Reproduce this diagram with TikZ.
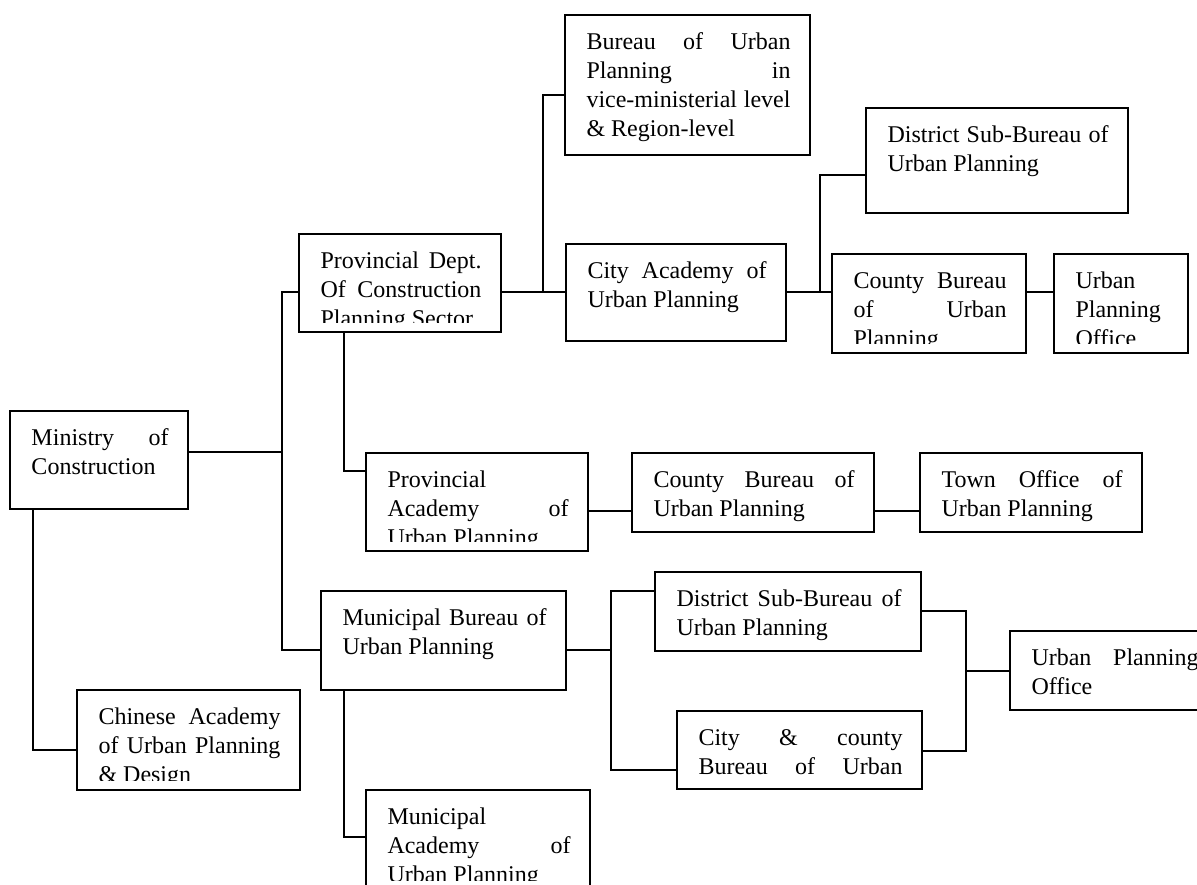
\documentclass[tikz,border=0pt]{standalone}
\usepackage{fontspec}
\setmainfont{Liberation Serif}
\hbadness=10000
\tolerance=10000

% text of a box, clipped at its inner bottom margin
\newcommand{\boxtext}[2]{%
  \clip ([yshift=5pt]path picture bounding box.south west) rectangle (path picture bounding box.north east);
  \node[anchor=base west, text width=#1, align=justify, font=\fontsize{12}{14.5}\selectfont]
    at ([xshift=0.5pt,yshift=-17pt]path picture bounding box.north west) {#2};}

\begin{document}
\begin{tikzpicture}[x=0.5pt,y=-0.5pt]
   \tikzstyle{every node}=[inner sep=0pt, outer sep=0pt]
   \tikzstyle{org}=[draw, line width=0.9pt, anchor=north west]
   \tikzstyle{link}=[line width=0.9pt]

\clip (0,0) rectangle (1197,884);

% boxes
\node[org, minimum width=89pt, minimum height=49pt,
  path picture={\boxtext{68.5pt}{Ministry of\linebreak Construction}}] (min) at (10,411) {};
\node[org, minimum width=111.5pt, minimum height=50pt,
  path picture={\boxtext{91pt}{Chinese Academy\linebreak of Urban Planning\linebreak \& Design}}] (chn) at (77,690) {};
\node[org, minimum width=101pt, minimum height=49pt,
  path picture={\boxtext{80.5pt}{Provincial Dept.\linebreak Of Construction\linebreak Planning Sector}}] (prov) at (299,234) {};
\node[org, minimum width=122.5pt, minimum height=70pt,
  path picture={\boxtext{102pt}{Bureau of Urban\linebreak Planning in\linebreak vice-ministerial level\linebreak \& Region-level}}] (bur) at (565,15) {};
\node[org, minimum width=110pt, minimum height=48.5pt,
  path picture={\boxtext{89.5pt}{City Academy of\linebreak Urban Planning}}] (city) at (566,244) {};
\node[org, minimum width=131pt, minimum height=52.5pt,
  path picture={\boxtext{110.5pt}{District Sub-Bureau of\linebreak Urban Planning}}] (dist1) at (866,108) {};
\node[org, minimum width=97pt, minimum height=49.5pt,
  path picture={\boxtext{76.5pt}{County Bureau\linebreak of Urban\linebreak Planning}}] (cnty1) at (832,254) {};
\node[org, minimum width=67pt, minimum height=49.5pt,
  path picture={\boxtext{46.5pt}{Urban\linebreak Planning\linebreak Office}}] (upo1) at (1054,254) {};
\node[org, minimum width=111pt, minimum height=49pt,
  path picture={\boxtext{90.5pt}{Provincial\linebreak Academy of\linebreak Urban Planning}}] (pac) at (366,453) {};
\node[org, minimum width=121pt, minimum height=39.5pt,
  path picture={\boxtext{100.5pt}{County Bureau of\linebreak Urban Planning}}] (cnty2) at (632,453) {};
\node[org, minimum width=111pt, minimum height=39.5pt,
  path picture={\boxtext{90.5pt}{Town Office of\linebreak Urban Planning}}] (town) at (920,453) {};
\node[org, minimum width=122.5pt, minimum height=49.5pt,
  path picture={\boxtext{102pt}{Municipal Bureau of\linebreak Urban Planning}}] (muni) at (321,591) {};
\node[org, minimum width=133pt, minimum height=39.5pt,
  path picture={\boxtext{112.5pt}{District Sub-Bureau of\linebreak Urban Planning}}] (dist2) at (655,572) {};
\node[org, minimum width=122.5pt, minimum height=39pt,
  path picture={\boxtext{102pt}{City \& county\linebreak Bureau of Urban\linebreak\null}}] (cc) at (677,711) {};
\node[org, minimum width=104pt, minimum height=39.5pt,
  path picture={\boxtext{83.5pt}{Urban Planning\linebreak Office}}] (upo2) at (1010,631) {};
\node[org, minimum width=112pt, minimum height=50pt,
  path picture={\boxtext{91.5pt}{Municipal\linebreak Academy of\linebreak Urban Planning}}] (mac) at (366,790) {};

% junctions
\coordinate (jA) at (282,452);
\coordinate (jP) at (282,292);
\coordinate (jM) at (282,650);
\coordinate (jB) at (33,750);
\coordinate (jC) at (543,292);
\coordinate (jC2) at (543,95);
\coordinate (jD) at (344,471);
\coordinate (jE) at (610,511);
\coordinate (jF) at (897,511);
\coordinate (jG) at (820,292);
\coordinate (jG2) at (820,175);
\coordinate (jH) at (1040,292);
\coordinate (jI) at (611,650);
\coordinate (jI1) at (611,591);
\coordinate (jI2) at (611,770);
\coordinate (jJ) at (344,837);
\coordinate (jK) at (966,671);
\coordinate (jK1) at (966,611);
\coordinate (jK2) at (966,751);

% connectors
\draw[link] (min.east |- jA) -- (jA);
\draw[link] (prov.west |- jP) -- (jP) -- (jM) -- (muni.west |- jM);
\draw[link] (min.south -| jB) -- (jB) -- (chn.west |- jB);
\draw[link] (prov.east |- jC) -- (city.west |- jC);
\draw[link] (jC) -- (jC2) -- (bur.west |- jC2);
\draw[link] (prov.south -| jD) -- (jD) -- (pac.west |- jD);
\draw[link] (pac.east |- jE) -- (cnty2.west |- jE);
\draw[link] (cnty2.east |- jF) -- (town.west |- jF);
\draw[link] (city.east |- jG) -- (cnty1.west |- jG);
\draw[link] (jG) -- (jG2) -- (dist1.west |- jG2);
\draw[link] (cnty1.east |- jH) -- (upo1.west |- jH);
\draw[link] (muni.east |- jI) -- (jI);
\draw[link] (dist2.west |- jI1) -- (jI1) -- (jI2) -- (cc.west |- jI2);
\draw[link] (muni.south -| jJ) -- (jJ) -- (mac.west |- jJ);
\draw[link] (dist2.east |- jK1) -- (jK1) -- (jK2) -- (cc.east |- jK2);
\draw[link] (jK) -- (upo2.west |- jK);

\end{tikzpicture}
\end{document}
